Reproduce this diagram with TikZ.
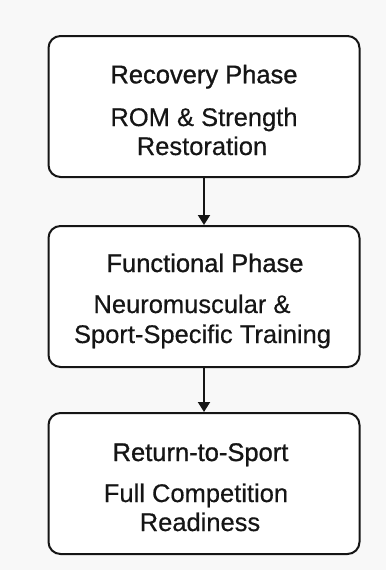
\documentclass[tikz,border=0pt]{standalone}
\usepackage{fontspec}
\setmainfont{Liberation Sans}
\newfontfamily\ttlfont[FakeBold=1.0]{Liberation Sans}
\newfontfamily\subfont[FakeBold=0.4]{Liberation Sans}
\usetikzlibrary{arrows.meta}
\definecolor{bg}{HTML}{F8F8F8}
\definecolor{ink}{HTML}{151515}
\begin{document}
\begin{tikzpicture}[x=1pt,y=-1pt,
  phasebox/.style={draw=ink,line width=2pt,rounded corners=12pt,fill=white,
    minimum width=311pt,minimum height=141pt,inner sep=0pt},
  ttl/.style={anchor=base,inner sep=0pt,text=ink,font=\ttlfont\fontsize{25.5}{29}\selectfont},
  sub/.style={anchor=base,inner sep=0pt,text=ink,font=\subfont\fontsize{25.5}{29}\selectfont},
  flow/.style={draw=ink,line width=2pt,-{Triangle[length=10pt,width=12pt]}}]
\fill[bg] (0,0) rectangle (386,570);
\useasboundingbox (0,0) rectangle (386,570);
\node[phasebox] (b1) at (204,106.5) {};
\node[phasebox] (b2) at (204,296.5) {};
\node[phasebox] (b3) at (204,483.5) {};
\node[ttl] (t1) at (204,83.3) {Recovery Phase};
\node[sub] (s1a) at (204,126) {ROM \& Strength};
\node[sub] (s1b) at (202,155) {Restoration};
\node[ttl] (t2) at (205,272) {Functional Phase};
\node[sub] (s2a) at (192,313) {Neuromuscular \&};
\node[sub] (s2b) at (202.5,343) {Sport-Specific Training};
\node[ttl] (t3) at (200.5,461) {Return-to-Sport};
\node[sub] (s3a) at (196,502) {Full Competition};
\node[sub] (s3b) at (200,531) {Readiness};
\draw[flow] (b1.south) -- (b2.north);
\draw[flow] (b2.south) -- (b3.north);
\end{tikzpicture}
\end{document}
